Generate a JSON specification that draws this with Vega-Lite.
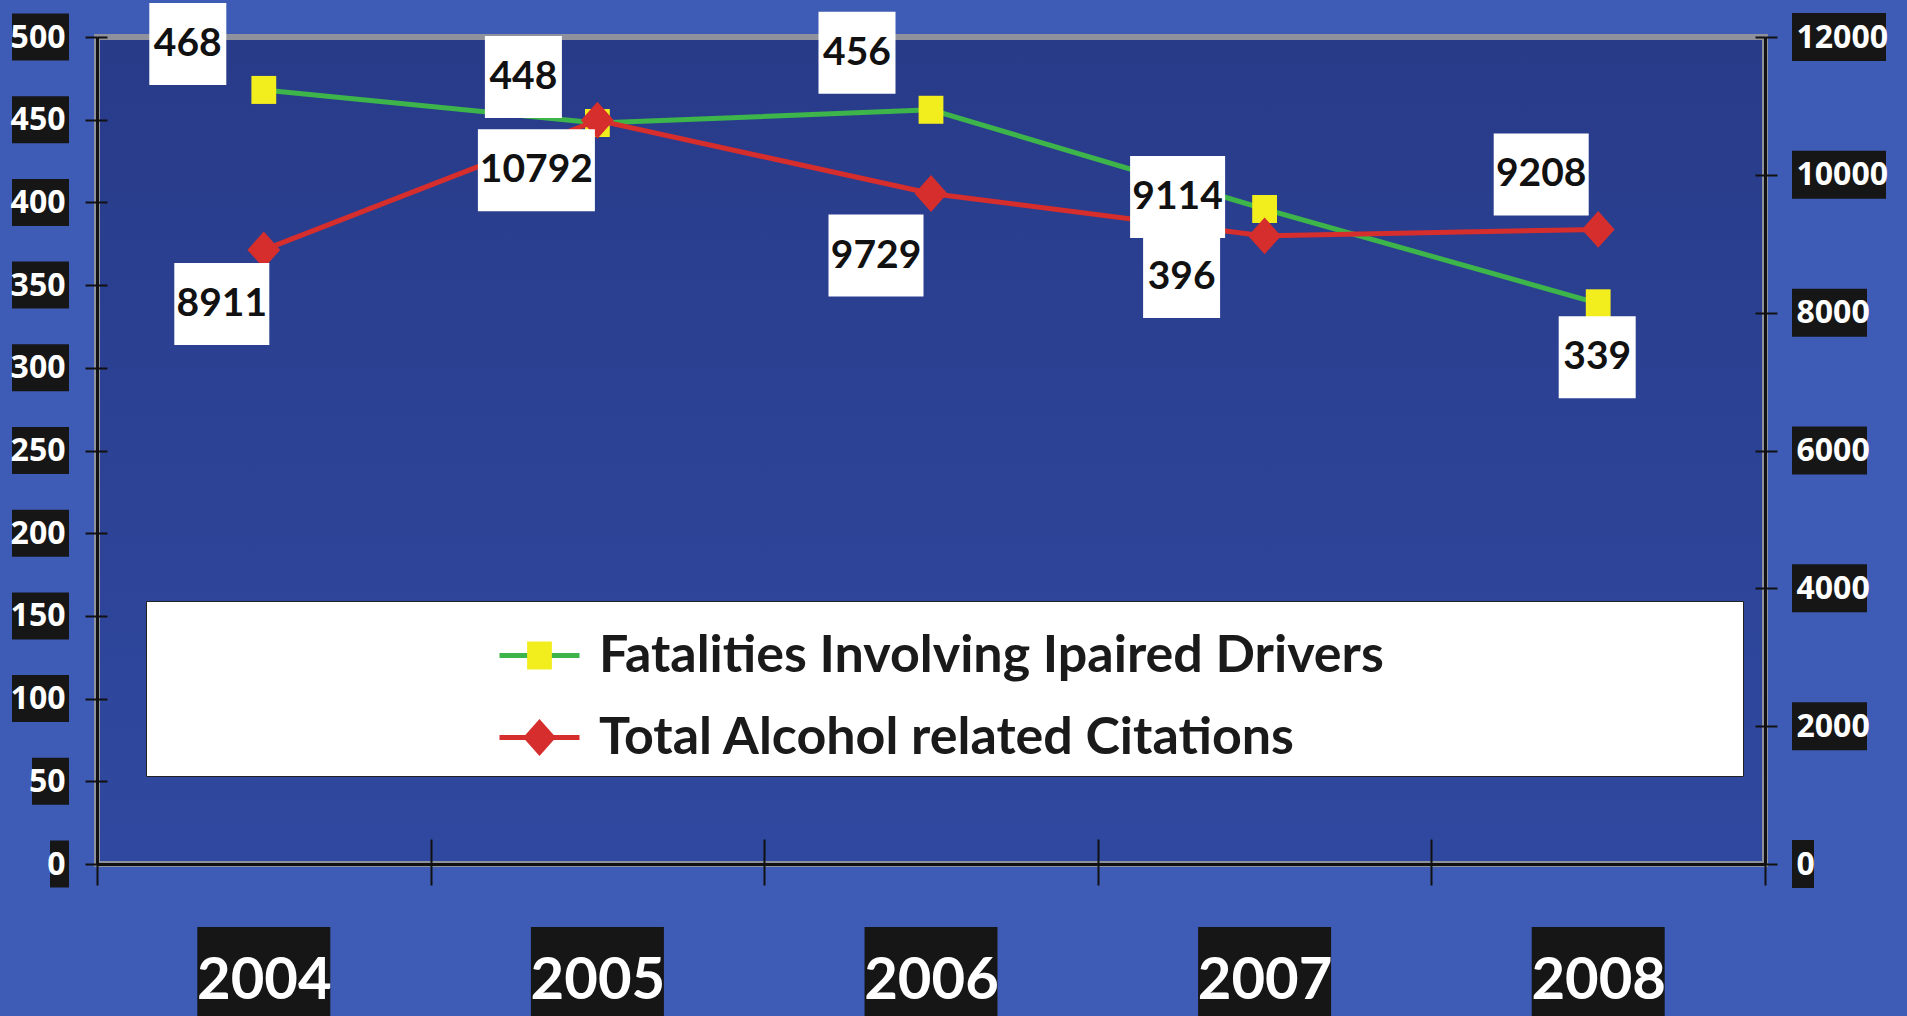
{
"$schema":"https://vega.github.io/schema/vega-lite/v6.json",
"width":1668,"height":827,
"autosize":{"type":"none"},
"padding":{"left":97,"top":37,"right":142,"bottom":152},
"background":"#3e5cb6",
"datasets":{
 "main":[{"year":"2004","fat":468,"cit":8911},{"year":"2005","fat":448,"cit":10792},{"year":"2006","fat":456,"cit":9729},{"year":"2007","fat":396,"cit":9114},{"year":"2008","fat":339,"cit":9208}],
 "lt":[{"v":0},{"v":50},{"v":100},{"v":150},{"v":200},{"v":250},{"v":300},{"v":350},{"v":400},{"v":450},{"v":500}],
 "rt":[{"v":0},{"v":2000},{"v":4000},{"v":6000},{"v":8000},{"v":10000},{"v":12000}]
},
"config":{
 "view":{"fill":{"gradient":"linear","x1":0,"y1":0,"x2":0,"y2":1,"stops":[{"offset":0,"color":"#283b89"},{"offset":1,"color":"#3049a0"}]},"stroke":"#8f929c","strokeWidth":6},
 "axis":{"grid":false,"domainColor":"#111111","domainWidth":3,"tickColor":"#111111","tickWidth":2,"labelColor":"#ffffff","zindex":1}
},
"resolve":{"scale":{"y":"independent"},"axis":{"x":"independent"}},
"layer":[
{"data":{"name":"main"},
 "resolve":{"axis":{"y":"independent"}},
 "layer":[
  {"mark":{"type":"line","strokeWidth":5},
   "encoding":{
    "x":{"field":"year","type":"ordinal","title":null,"scale":{"type":"band","paddingInner":0,"paddingOuter":0},
         "axis":{"orient":"bottom","zindex":1,"tickBand":"extent","tickSize":21,"labelPadding":113,"labelBaseline":"alphabetic","labelFont":"Lato","labelFontSize":58,"labelFontWeight":"bold","labelColor":"#ffffff","labelAngle":0}},
    "y":{"field":"fat","type":"quantitative","title":null,"scale":{"domain":[0,500],"nice":false},
         "axis":{"orient":"left","zindex":1,"values":[0,50,100,150,200,250,300,350,400,450,500],"format":"d","tickSize":12,"labelPadding":20,"labelFont":"Open Sans","labelFontSize":32,"labelFontWeight":"bold","labelAlign":"right","labelBaseline":"middle","labelColor":"#ffffff"}},
    "color":{"datum":"Fatalities Involving Ipaired Drivers","type":"nominal","scale":{"range":["#3db54a","#d62d2d"]},
         "legend":{"orient":"none","legendX":49,"legendY":564,"title":"\u00a0","titleOrient":"right","titleFontSize":10,"titlePadding":347,"padding":12,"fillColor":"#ffffff","strokeColor":"#222222","symbolType":"stroke","symbolSize":6400,"symbolStrokeWidth":5,"symbolOffset":339,"labelOffset":17,"labelFont":"Lato","labelFontSize":52,"labelFontWeight":"bold","labelColor":"#1a1a1a","labelLimit":3000,"rowPadding":13,"zindex":0}}
   }},
  {"layer":[
  {"mark":{"type":"point","filled":true,"size":6400,"opacity":1,"strokeWidth":0},
   "encoding":{
    "x":{"field":"year","type":"ordinal"},
    "y":{"field":"fat","type":"quantitative","title":null,"axis":{"orient":"left","zindex":1,"values":[0,50,100,150,200,250,300,350,400,450,500],"tickSize":-10,"labels":false,"domain":false,"title":null}},
    "fill":{"datum":"Fatalities Involving Ipaired Drivers","type":"nominal","scale":{"domain":["Fatalities Involving Ipaired Drivers","Total Alcohol related Citations"],"range":["#f2ee1d","#d62d2d"]},
         "legend":{"orient":"none","legendX":49,"legendY":564,"title":null,"padding":12,"symbolSize":6400,"symbolStrokeWidth":5,"symbolStrokeColor":"transparent","symbolOffset":339,"labelOffset":0,"labelExpr":"'\u00a0'","labelFont":"Lato","labelFontSize":52,"labelFontWeight":"bold","labelColor":"#1a1a1a","labelLimit":3000,"rowPadding":13,"zindex":1}},
    "shape":{"datum":"Fatalities Involving Ipaired Drivers","type":"nominal","scale":{"domain":["Fatalities Involving Ipaired Drivers","Total Alcohol related Citations"],"range":["M-0.31,-0.35H0.31V0.35H-0.31Z","M0,-0.46L0.41,0L0,0.46L-0.41,0Z"]},
         "legend":{"orient":"none","legendX":49,"legendY":564,"title":null,"padding":12,"symbolSize":6400,"symbolStrokeWidth":5,"symbolStrokeColor":"transparent","symbolOffset":339,"labelOffset":0,"labelExpr":"'\u00a0'","labelFont":"Lato","labelFontSize":52,"labelFontWeight":"bold","labelColor":"#1a1a1a","labelLimit":3000,"rowPadding":13,"zindex":1}}
   }},
  {"transform":[{"filter":"datum.year == '2004'"}],
   "encoding":{"x":{"field":"year","type":"ordinal"},"y":{"field":"fat","type":"quantitative"},"text":{"field":"fat","type":"quantitative","format":"d"}},
   "layer":[
    {"mark":{"type":"point","shape":"M-0.77,-0.82H0.77V0.82H-0.77Z","size":10000,"filled":true,"fill":"#ffffff","opacity":1,"strokeWidth":0,"xOffset":-76,"yOffset":-46}},
    {"mark":{"type":"text","font":"Lato","fontSize":39,"fontWeight":"bold","fill":"#111111","align":"center","baseline":"middle","xOffset":-76,"yOffset":-46}}]},
  {"transform":[{"filter":"datum.year == '2005'"}],
   "encoding":{"x":{"field":"year","type":"ordinal"},"y":{"field":"fat","type":"quantitative"},"text":{"field":"fat","type":"quantitative","format":"d"}},
   "layer":[
    {"mark":{"type":"point","shape":"M-0.77,-0.82H0.77V0.82H-0.77Z","size":10000,"filled":true,"fill":"#ffffff","opacity":1,"strokeWidth":0,"xOffset":-74,"yOffset":-46}},
    {"mark":{"type":"text","font":"Lato","fontSize":39,"fontWeight":"bold","fill":"#111111","align":"center","baseline":"middle","xOffset":-74,"yOffset":-46}}]},
  {"transform":[{"filter":"datum.year == '2006'"}],
   "encoding":{"x":{"field":"year","type":"ordinal"},"y":{"field":"fat","type":"quantitative"},"text":{"field":"fat","type":"quantitative","format":"d"}},
   "layer":[
    {"mark":{"type":"point","shape":"M-0.77,-0.82H0.77V0.82H-0.77Z","size":10000,"filled":true,"fill":"#ffffff","opacity":1,"strokeWidth":0,"xOffset":-74,"yOffset":-57}},
    {"mark":{"type":"text","font":"Lato","fontSize":39,"fontWeight":"bold","fill":"#111111","align":"center","baseline":"middle","xOffset":-74,"yOffset":-57}}]},
  {"transform":[{"filter":"datum.year == '2007'"}],
   "encoding":{"x":{"field":"year","type":"ordinal"},"y":{"field":"fat","type":"quantitative"},"text":{"field":"fat","type":"quantitative","format":"d"}},
   "layer":[
    {"mark":{"type":"point","shape":"M-0.77,-0.82H0.77V0.82H-0.77Z","size":10000,"filled":true,"fill":"#ffffff","opacity":1,"strokeWidth":0,"xOffset":-83,"yOffset":68}},
    {"mark":{"type":"text","font":"Lato","fontSize":39,"fontWeight":"bold","fill":"#111111","align":"center","baseline":"middle","xOffset":-83,"yOffset":68}}]},
  {"transform":[{"filter":"datum.year == '2008'"}],
   "encoding":{"x":{"field":"year","type":"ordinal"},"y":{"field":"fat","type":"quantitative"},"text":{"field":"fat","type":"quantitative","format":"d"}},
   "layer":[
    {"mark":{"type":"point","shape":"M-0.77,-0.82H0.77V0.82H-0.77Z","size":10000,"filled":true,"fill":"#ffffff","opacity":1,"strokeWidth":0,"xOffset":-1,"yOffset":54}},
    {"mark":{"type":"text","font":"Lato","fontSize":39,"fontWeight":"bold","fill":"#111111","align":"center","baseline":"middle","xOffset":-1,"yOffset":54}}]},
  {"data":{"name":"lt"},"transform":[{"filter":"datum.v >= 100"}],
   "mark":{"type":"point","shape":"M-1.14,-0.47H0V0.47H-1.14Z","size":10000,"filled":true,"fill":"#161616","opacity":1,"strokeWidth":0,"xOffset":-194.8},
   "encoding":{"x":{"datum":"2004","type":"ordinal"},"y":{"field":"v","type":"quantitative"}}},
  {"data":{"name":"lt"},"transform":[{"filter":"datum.v > 0 && datum.v < 100"}],
   "mark":{"type":"point","shape":"M-0.74,-0.47H0V0.47H-0.74Z","size":10000,"filled":true,"fill":"#161616","opacity":1,"strokeWidth":0,"xOffset":-194.8},
   "encoding":{"x":{"datum":"2004","type":"ordinal"},"y":{"field":"v","type":"quantitative"}}},
  {"data":{"name":"lt"},"transform":[{"filter":"datum.v == 0"}],
   "mark":{"type":"point","shape":"M-0.38,-0.47H0V0.47H-0.38Z","size":10000,"filled":true,"fill":"#161616","opacity":1,"strokeWidth":0,"xOffset":-194.8},
   "encoding":{"x":{"datum":"2004","type":"ordinal"},"y":{"field":"v","type":"quantitative"}}},
  {"mark":{"type":"point","shape":"M-1.33,1.26H1.33V3.5H-1.33Z","size":10000,"filled":true,"fill":"#161616","opacity":1,"strokeWidth":0},
   "encoding":{"x":{"field":"year","type":"ordinal"},"y":{"datum":0,"type":"quantitative"}}}
  ]}
 ]},
{"data":{"name":"main"},
 "resolve":{"axis":{"y":"independent"}},
 "layer":[
  {"mark":{"type":"line","strokeWidth":5},
   "encoding":{
    "x":{"field":"year","type":"ordinal","title":null,"axis":{"orient":"bottom","zindex":1,"tickBand":"extent","tickSize":-25,"labels":false,"domain":false,"title":null}},
    "y":{"field":"cit","type":"quantitative","title":null,"scale":{"domain":[0,12000],"nice":false},
         "axis":{"orient":"right","zindex":1,"values":[0,2000,4000,6000,8000,10000,12000],"format":"d","tickSize":12,"labelPadding":19,"labelFont":"Open Sans","labelFontSize":32,"labelFontWeight":"bold","labelAlign":"left","labelBaseline":"middle","labelColor":"#ffffff"}},
    "color":{"datum":"Total Alcohol related Citations","type":"nominal"}
   }},
  {"layer":[
  {"mark":{"type":"point","filled":true,"size":6400,"opacity":1,"strokeWidth":0},
   "encoding":{
    "x":{"field":"year","type":"ordinal"},
    "y":{"field":"cit","type":"quantitative","title":null,"axis":{"orient":"right","zindex":1,"values":[0,2000,4000,6000,8000,10000,12000],"tickSize":-10,"labels":false,"domain":false,"title":null}},
    "fill":{"datum":"Total Alcohol related Citations","type":"nominal"},
    "shape":{"datum":"Total Alcohol related Citations","type":"nominal"}
   }},
  {"transform":[{"filter":"datum.year == '2004'"}],
   "encoding":{"x":{"field":"year","type":"ordinal"},"y":{"field":"cit","type":"quantitative"},"text":{"field":"cit","type":"quantitative","format":"d"}},
   "layer":[
    {"mark":{"type":"point","shape":"M-0.95,-0.82H0.95V0.82H-0.95Z","size":10000,"filled":true,"fill":"#ffffff","opacity":1,"strokeWidth":0,"xOffset":-42,"yOffset":54}},
    {"mark":{"type":"text","font":"Lato","fontSize":39,"fontWeight":"bold","fill":"#111111","align":"center","baseline":"middle","xOffset":-42,"yOffset":54}}]},
  {"transform":[{"filter":"datum.year == '2005'"}],
   "encoding":{"x":{"field":"year","type":"ordinal"},"y":{"field":"cit","type":"quantitative"},"text":{"field":"cit","type":"quantitative","format":"d"}},
   "layer":[
    {"mark":{"type":"point","shape":"M-1.17,-0.82H1.17V0.82H-1.17Z","size":10000,"filled":true,"fill":"#ffffff","opacity":1,"strokeWidth":0,"xOffset":-61,"yOffset":50}},
    {"mark":{"type":"text","font":"Lato","fontSize":39,"fontWeight":"bold","fill":"#111111","align":"center","baseline":"middle","xOffset":-61,"yOffset":50}}]},
  {"transform":[{"filter":"datum.year == '2006'"}],
   "encoding":{"x":{"field":"year","type":"ordinal"},"y":{"field":"cit","type":"quantitative"},"text":{"field":"cit","type":"quantitative","format":"d"}},
   "layer":[
    {"mark":{"type":"point","shape":"M-0.95,-0.82H0.95V0.82H-0.95Z","size":10000,"filled":true,"fill":"#ffffff","opacity":1,"strokeWidth":0,"xOffset":-55,"yOffset":62}},
    {"mark":{"type":"text","font":"Lato","fontSize":39,"fontWeight":"bold","fill":"#111111","align":"center","baseline":"middle","xOffset":-55,"yOffset":62}}]},
  {"transform":[{"filter":"datum.year == '2007'"}],
   "encoding":{"x":{"field":"year","type":"ordinal"},"y":{"field":"cit","type":"quantitative"},"text":{"field":"cit","type":"quantitative","format":"d"}},
   "layer":[
    {"mark":{"type":"point","shape":"M-0.95,-0.82H0.95V0.82H-0.95Z","size":10000,"filled":true,"fill":"#ffffff","opacity":1,"strokeWidth":0,"xOffset":-87,"yOffset":-39}},
    {"mark":{"type":"text","font":"Lato","fontSize":39,"fontWeight":"bold","fill":"#111111","align":"center","baseline":"middle","xOffset":-87,"yOffset":-39}}]},
  {"transform":[{"filter":"datum.year == '2008'"}],
   "encoding":{"x":{"field":"year","type":"ordinal"},"y":{"field":"cit","type":"quantitative"},"text":{"field":"cit","type":"quantitative","format":"d"}},
   "layer":[
    {"mark":{"type":"point","shape":"M-0.95,-0.82H0.95V0.82H-0.95Z","size":10000,"filled":true,"fill":"#ffffff","opacity":1,"strokeWidth":0,"xOffset":-57,"yOffset":-55}},
    {"mark":{"type":"text","font":"Lato","fontSize":39,"fontWeight":"bold","fill":"#111111","align":"center","baseline":"middle","xOffset":-57,"yOffset":-55}}]},
  {"data":{"name":"rt"},"transform":[{"filter":"datum.v >= 10000"}],
   "mark":{"type":"point","shape":"M0,-0.48H1.88V0.48H0Z","size":10000,"filled":true,"fill":"#161616","opacity":1,"strokeWidth":0,"xOffset":193.8},
   "encoding":{"x":{"datum":"2008","type":"ordinal"},"y":{"field":"v","type":"quantitative"}}},
  {"data":{"name":"rt"},"transform":[{"filter":"datum.v > 0 && datum.v < 10000"}],
   "mark":{"type":"point","shape":"M0,-0.48H1.5V0.48H0Z","size":10000,"filled":true,"fill":"#161616","opacity":1,"strokeWidth":0,"xOffset":193.8},
   "encoding":{"x":{"datum":"2008","type":"ordinal"},"y":{"field":"v","type":"quantitative"}}},
  {"data":{"name":"rt"},"transform":[{"filter":"datum.v == 0"}],
   "mark":{"type":"point","shape":"M0,-0.48H0.44V0.48H0Z","size":10000,"filled":true,"fill":"#161616","opacity":1,"strokeWidth":0,"xOffset":193.8},
   "encoding":{"x":{"datum":"2008","type":"ordinal"},"y":{"field":"v","type":"quantitative"}}}
  ]}
 ]}
]
}
